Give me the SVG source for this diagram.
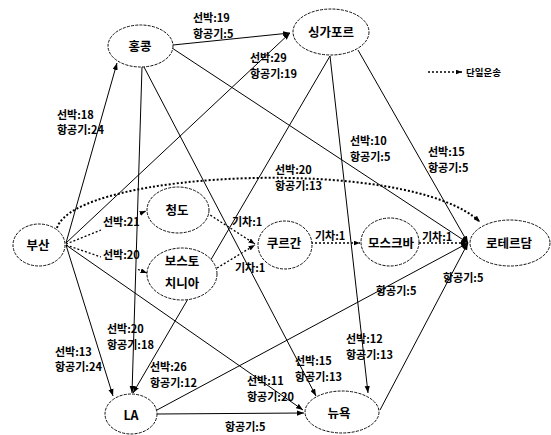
<svg xmlns="http://www.w3.org/2000/svg" width="551" height="435" viewBox="0 0 551 435">
<defs>
<marker id="arr" viewBox="0 0 8 6" markerWidth="7" markerHeight="5.5" refX="8" refY="3" orient="auto" markerUnits="userSpaceOnUse">
<path d="M0,0 L8,3 L0,6 z" fill="#000"/>
</marker>
<marker id="darr" viewBox="0 0 8 6" markerWidth="6.5" markerHeight="5" refX="8" refY="3" orient="auto" markerUnits="userSpaceOnUse">
<path d="M0,0 L8,3 L0,6 z" fill="#000"/>
</marker>
</defs>
<style>
.n ellipse{fill:#fff;stroke:#111;stroke-width:1;stroke-dasharray:3 1.2}
.n text{font-family:"Noto Sans CJK KR","Noto Sans",sans-serif;font-weight:bold;font-size:12.5px;fill:#000;text-anchor:middle}
.e path{fill:none;stroke:#000;stroke-width:1}
.e path.s{marker-end:url(#arr)}
.e path.d{stroke-width:1.3;stroke-dasharray:2 2}
.e path.da{stroke-width:1.3;stroke-dasharray:2 2;marker-end:url(#darr)}
.e path.big{stroke-width:2;stroke-dasharray:2 2;marker-end:url(#darr)}
.l{font-family:"Noto Sans CJK KR","Noto Sans",sans-serif;font-weight:bold;font-size:11px;fill:#000}
.lg{font-family:"Noto Sans CJK KR","Noto Sans",sans-serif;font-weight:bold;font-size:9.5px;fill:#000}
</style>
<g id="connectors" class="e">
<path class="s" d="M66,243 L117,63"/>
<path class="s" d="M66,243 L290,33"/>
<path class="s" d="M66,245 L113,396"/>
<path class="s" d="M66,245 L303,410"/>
<path class="s" d="M173,45 L290,33"/>
<path class="s" d="M172,48 L468,243"/>
<path class="s" d="M142,67 L132,393"/>
<path class="s" d="M144,67 L316,396"/>
<path class="s" d="M330,56 L133,393"/>
<path class="s" d="M330,56 L368,393"/>
<path class="s" d="M358,50 L468,243"/>
<path class="s" d="M157,414 L304,413"/>
<path class="s" d="M157,410 L468,243"/>
<path class="s" d="M380,410 L468,243"/>
<path class="big" d="M57,228 C75,170 410,155 480,222"/>
<path class="d" d="M66,244 L101,230"/>
<path class="da" d="M140,213.5 L146,211"/>
<path class="d" d="M66,245 L101,257"/>
<path class="da" d="M138,269.5 L147,273"/>
<path class="da" d="M207,213 L255,244"/>
<path class="da" d="M217,268 L255,245"/>
<path class="da" d="M311,243 L360,243"/>
<path class="da" d="M419,243 L467,243"/>
<path class="da" d="M428,72 L462,72"/>
</g>
<g id="n-hongkong" class="n"><ellipse cx="140.5" cy="46" rx="32.5" ry="21"/><text x="140" y="51">홍콩</text></g>
<g id="n-singapore" class="n"><ellipse cx="331" cy="32" rx="38" ry="23"/><text x="331" y="37">싱가포르</text></g>
<g id="n-busan" class="n"><ellipse cx="39" cy="245" rx="26" ry="21"/><text x="38" y="250">부산</text></g>
<g id="n-qingdao" class="n"><ellipse cx="178" cy="210" rx="31" ry="23"/><text x="177" y="215">청도</text></g>
<g id="n-vostochny" class="n"><ellipse cx="182" cy="274" rx="35" ry="26"/><text x="182" y="266">보스토</text><text x="182" y="288">치니아</text></g>
<g id="n-kurgan" class="n"><ellipse cx="285" cy="245" rx="27" ry="24"/><text x="284" y="248">쿠르간</text></g>
<g id="n-moscow" class="n"><ellipse cx="390" cy="242" rx="29" ry="24"/><text x="391" y="248">모스크바</text></g>
<g id="n-rotterdam" class="n"><ellipse cx="510" cy="243" rx="40" ry="23"/><text x="509" y="248">로테르담</text></g>
<g id="n-la" class="n"><ellipse cx="131" cy="414" rx="26" ry="20"/><text x="131" y="420">LA</text></g>
<g id="n-newyork" class="n"><ellipse cx="342" cy="412" rx="37" ry="21"/><text x="339" y="418">뉴욕</text></g>
<g id="labels">
<text class="l" x="193" y="22">선박:19<tspan x="193" y="38">항공기:5</tspan></text>
<text class="l" x="250" y="62">선박:29<tspan x="250" y="78">항공기:19</tspan></text>
<text class="l" x="57" y="119">선박:18<tspan x="57" y="134">항공기:24</tspan></text>
<text class="l" x="350" y="145">선박:10<tspan x="350" y="161">항공기:5</tspan></text>
<text class="l" x="428" y="156">선박:15<tspan x="428" y="172">항공기:5</tspan></text>
<text class="l" x="275" y="174">선박:20<tspan x="275" y="190">항공기:13</tspan></text>
<text class="l" x="103" y="226">선박:21</text>
<text class="l" x="103" y="259">선박:20</text>
<text class="l" x="232" y="226">기차:1</text>
<text class="l" x="235" y="272">기차:1</text>
<text class="l" x="315" y="240">기차:1</text>
<text class="l" x="422" y="241">기차:1</text>
<text class="l" x="107" y="333">선박:20<tspan x="107" y="349">항공기:18</tspan></text>
<text class="l" x="55" y="356">선박:13<tspan x="55" y="371">항공기:24</tspan></text>
<text class="l" x="150" y="371">선박:26<tspan x="150" y="387">항공기:12</tspan></text>
<text class="l" x="247" y="385">선박:11<tspan x="247" y="401">항공기:20</tspan></text>
<text class="l" x="295" y="365">선박:15<tspan x="295" y="381">항공기:13</tspan></text>
<text class="l" x="346" y="343">선박:12<tspan x="346" y="359">항공기:13</tspan></text>
<text class="l" x="376" y="295">항공기:5</text>
<text class="l" x="443" y="282">항공기:5</text>
<text class="l" x="225" y="431">항공기:5</text>
<text class="lg" x="466" y="76">단일운송</text>
</g>
</svg>
